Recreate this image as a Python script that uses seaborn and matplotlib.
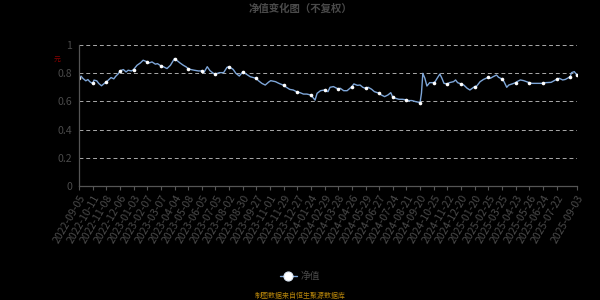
import matplotlib
matplotlib.use("Agg")
import matplotlib.pyplot as plt
from matplotlib.lines import Line2D
import seaborn as sns
import pandas as pd

# ---- data (trading-day index, net value) ----
day_index = [
    0, 3, 6, 10, 13, 16, 20, 22, 26, 29, 33, 37, 40, 43, 47, 51, 54, 58, 60, 65,
    69, 72, 77, 80, 85, 90, 94, 100, 103, 107, 112, 115, 120, 124, 129, 134, 140, 143, 148, 153,
    157, 160, 164, 169, 175, 180, 183, 188, 192, 197, 200, 206, 212, 217, 220, 226, 230, 235, 240, 245,
    251, 260, 263, 268, 273, 278, 281, 288, 293, 300, 304, 309, 314, 320, 324, 329, 334, 340, 342, 346,
    349, 354, 360, 365, 368, 373, 380, 383, 388, 393, 400, 403, 408, 412, 416, 420, 424, 429, 433, 440,
    443, 448, 453, 457, 460, 464, 469, 474, 480, 483, 488, 493, 500, 502, 504, 507, 510, 514, 520, 522,
    525, 529, 532, 535, 540, 543, 549, 552, 555, 560, 564, 569, 573, 580, 583, 588, 593, 600, 603, 607,
    612, 615, 620, 623, 627, 630, 635, 640, 642, 647, 652, 660, 664, 671, 680, 684, 692, 700, 704, 709,
    713, 720, 722, 726, 730,
]
net_value = [
    0.767, 0.779, 0.762, 0.746, 0.755, 0.739, 0.727, 0.751, 0.746, 0.727, 0.711, 0.727, 0.739, 0.751, 0.769, 0.760, 0.779, 0.798, 0.816, 0.826,
    0.809, 0.821, 0.816, 0.826, 0.856, 0.873, 0.892, 0.880, 0.873, 0.880, 0.864, 0.868, 0.852, 0.845, 0.833, 0.856, 0.904, 0.892, 0.873, 0.856,
    0.845, 0.833, 0.826, 0.821, 0.816, 0.816, 0.804, 0.846, 0.818, 0.799, 0.794, 0.804, 0.804, 0.842, 0.846, 0.827, 0.799, 0.780, 0.809, 0.794,
    0.775, 0.763, 0.747, 0.728, 0.716, 0.737, 0.747, 0.740, 0.728, 0.714, 0.700, 0.685, 0.681, 0.666, 0.662, 0.652, 0.652, 0.645, 0.633, 0.609,
    0.657, 0.676, 0.681, 0.669, 0.700, 0.705, 0.688, 0.693, 0.676, 0.676, 0.705, 0.724, 0.714, 0.716, 0.700, 0.693, 0.700, 0.686, 0.669, 0.658,
    0.646, 0.634, 0.646, 0.662, 0.629, 0.622, 0.615, 0.615, 0.611, 0.606, 0.606, 0.599, 0.592, 0.658, 0.799, 0.764, 0.709, 0.733, 0.733, 0.740,
    0.764, 0.794, 0.764, 0.728, 0.724, 0.733, 0.740, 0.752, 0.733, 0.724, 0.716, 0.693, 0.681, 0.705, 0.709, 0.740, 0.756, 0.771, 0.764, 0.775,
    0.787, 0.771, 0.759, 0.740, 0.700, 0.716, 0.724, 0.733, 0.740, 0.752, 0.747, 0.733, 0.728, 0.728, 0.728, 0.733, 0.735, 0.756, 0.764, 0.752,
    0.756, 0.775, 0.804, 0.811, 0.787,
]
tick_labels = [
    "2022-09-05", "2022-10-11", "2022-11-08", "2022-12-06", "2023-01-03", "2023-02-07",
    "2023-03-07", "2023-04-04", "2023-05-08", "2023-06-05", "2023-07-05", "2023-08-02",
    "2023-08-30", "2023-09-27", "2023-11-01", "2023-11-29", "2023-12-27", "2024-01-24",
    "2024-02-29", "2024-03-28", "2024-04-26", "2024-05-29", "2024-06-27", "2024-07-24",
    "2024-08-21", "2024-09-20", "2024-10-25", "2024-11-22", "2024-12-20", "2025-01-20",
    "2025-02-25", "2025-03-25", "2025-04-23", "2025-05-26", "2025-06-24", "2025-07-22",
    "2025-09-03",
]
tick_days = list(range(0, 701, 20)) + [730]
y_ticks = [0, 0.2, 0.4, 0.6, 0.8, 1.0]
y_tick_labels = ["0", "0.2", "0.4", "0.6", "0.8", "1"]

title = "净值变化图（不复权）"
series_name = "净值"
footer = "制图数据来自恒生聚源数据库"

# ---- style ----
sns.set_theme(style="dark")
plt.rcParams["font.family"] = ["Noto Sans CJK SC", "DejaVu Sans"]
plt.rcParams["axes.unicode_minus"] = False

bg = "#000000"
line_color = "#7ea6d8"
text_gray = "#4a4a4a"
axis_gray = "#555555"

fig = plt.figure(figsize=(6, 3), dpi=100, facecolor=bg)
ax = fig.add_axes([79 / 600, 1 - 186 / 300, 498 / 600, 141 / 300])
ax.set_facecolor(bg)

df = pd.DataFrame({"day": day_index, "value": net_value})
mark_idx = [i for i, d in enumerate(day_index) if d % 20 == 0 or i == len(day_index) - 1]
sns.lineplot(data=df, x="day", y="value", ax=ax, color=line_color, linewidth=1.0,
             marker="o", markersize=2.6, markerfacecolor="white", markeredgecolor="white",
             markeredgewidth=0, markevery=mark_idx, legend=False)

ax.set_xlim(0, 730)
ax.set_ylim(0, 1)
ax.set_xticks(tick_days)
ax.set_xticklabels(tick_labels, rotation=60, ha="right", va="top",
                   rotation_mode="anchor", color=text_gray, fontsize=7.6)
ax.set_yticks(y_ticks)
ax.set_yticklabels(y_tick_labels, color=text_gray, fontsize=7.6)
ax.tick_params(axis="x", length=3, width=0.8, color=axis_gray, pad=2, bottom=True)
ax.tick_params(axis="y", length=0, pad=5)
ax.set_xlabel("")
ax.set_ylabel("")

ax.grid(False)
for yv in y_ticks[1:]:
    ax.axhline(yv, color="#aaaaaa", linewidth=0.7, linestyle=(0, (4, 3)), zorder=0)

for s in ["top", "right"]:
    ax.spines[s].set_visible(False)
for s in ["left", "bottom"]:
    ax.spines[s].set_visible(True)
    ax.spines[s].set_color(axis_gray)
    ax.spines[s].set_linewidth(0.9)

fig.text(0.5, 1 - 9 / 300, title, ha="center", va="center", color=text_gray,
         fontsize=7.5, fontweight="bold")
fig.text(57 / 600, 1 - 60 / 300, "元", ha="center", va="center", color="#8b0000", fontsize=5)

handle = Line2D([], [], color=line_color, linewidth=1.0, marker="o", markersize=6.5,
                markerfacecolor="white", markeredgecolor="#dde8f5", markeredgewidth=0.8)
fig.legend([handle], [series_name], loc="center", bbox_to_anchor=(300 / 600, 1 - 276 / 300),
           frameon=False, fontsize=7, labelcolor=text_gray, handlelength=1.8,
           handletextpad=0.4)

fig.text(0.5, 1 - 296 / 300, footer, ha="center", va="center", color="#b8860b", fontsize=5)

fig.savefig("out.png", dpi=100, facecolor=bg)
